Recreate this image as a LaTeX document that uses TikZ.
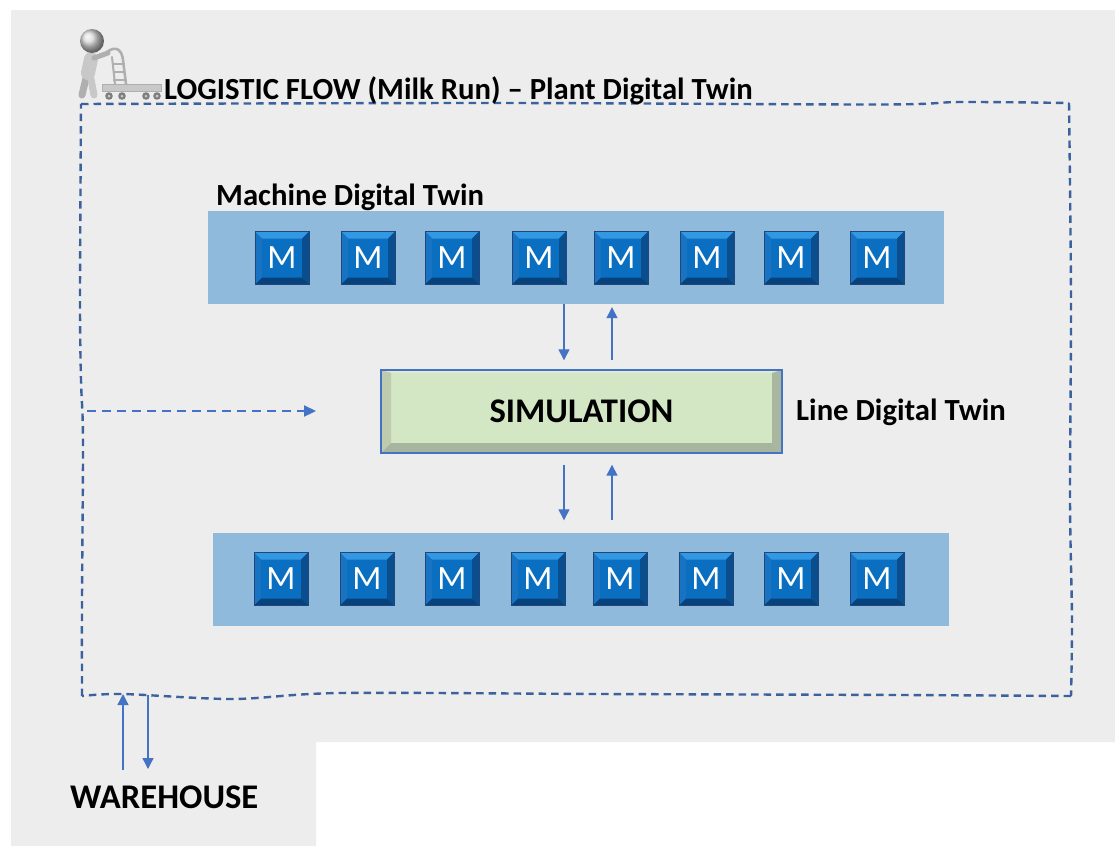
\documentclass[tikz,border=0pt]{standalone}
\usepackage{fontspec}
\setmainfont{Carlito}
\usetikzlibrary{arrows.meta}

\definecolor{pageGray}{HTML}{EDEDED}
\definecolor{bandBlue}{HTML}{8FBADC}
\definecolor{flowDash}{HTML}{3C629E}
\definecolor{linkBlue}{HTML}{4472C4}
\definecolor{mFace}{HTML}{0A6FC0}
\definecolor{mTop}{HTML}{3398E2}
\definecolor{mLeft}{HTML}{1874C2}
\definecolor{mRight}{HTML}{0B4E8E}
\definecolor{mBottom}{HTML}{07427C}
\definecolor{mEdge}{HTML}{23467A}
\definecolor{simFace}{HTML}{D4E7C5}
\definecolor{simTop}{HTML}{DCEBD0}
\definecolor{simLeft}{HTML}{BFCBAE}
\definecolor{simRight}{HTML}{A9B6A0}
\definecolor{simBottom}{HTML}{A7B49E}
\definecolor{figLight}{HTML}{C8C8C8}
\definecolor{figMid}{HTML}{AFAFAF}
\definecolor{figDark}{HTML}{7E7E7E}

\tikzset{
  lbl/.style={font=\bfseries\fontsize{30.7}{36}\selectfont, inner sep=0pt, text=black},
  biglbl/.style={font=\bfseries\fontsize{34.6}{40}\selectfont, inner sep=0pt, text=black},
  band/.style={fill=bandBlue, inner sep=0pt, minimum width=736pt, minimum height=93pt},
  mbox/.style={minimum width=54pt, minimum height=53pt, inner sep=0pt,
    fill=mFace, draw=mEdge, line width=0.8pt, text=white,
    font=\fontsize{34}{36}\selectfont,
    path picture={
      \fill[mTop] (path picture bounding box.north west) -- (path picture bounding box.north east)
        -- ([shift={(-7,7)}]path picture bounding box.north east) -- ([shift={(7,7)}]path picture bounding box.north west) -- cycle;
      \fill[mLeft] (path picture bounding box.north west) -- ([shift={(7,7)}]path picture bounding box.north west)
        -- ([shift={(7,-7)}]path picture bounding box.south west) -- (path picture bounding box.south west) -- cycle;
      \fill[mRight] (path picture bounding box.north east) -- ([shift={(-7,7)}]path picture bounding box.north east)
        -- ([shift={(-7,-7)}]path picture bounding box.south east) -- (path picture bounding box.south east) -- cycle;
      \fill[mBottom] (path picture bounding box.south west) -- ([shift={(7,-7)}]path picture bounding box.south west)
        -- ([shift={(-7,-7)}]path picture bounding box.south east) -- (path picture bounding box.south east) -- cycle;
    }},
  simbox/.style={minimum width=401pt, minimum height=83pt, inner sep=0pt,
    fill=simFace, draw=linkBlue, line width=1.4pt,
    font=\bfseries\fontsize{34.6}{40}\selectfont,
    path picture={
      \fill[simTop] (path picture bounding box.north west) -- (path picture bounding box.north east)
        -- ([shift={(-10,3)}]path picture bounding box.north east) -- ([shift={(10,3)}]path picture bounding box.north west) -- cycle;
      \fill[simLeft] (path picture bounding box.north west) -- ([shift={(10,3)}]path picture bounding box.north west)
        -- ([shift={(10,-10)}]path picture bounding box.south west) -- (path picture bounding box.south west) -- cycle;
      \fill[simRight] (path picture bounding box.north east) -- ([shift={(-10,3)}]path picture bounding box.north east)
        -- ([shift={(-10,-10)}]path picture bounding box.south east) -- (path picture bounding box.south east) -- cycle;
      \fill[simBottom] (path picture bounding box.south west) -- ([shift={(10,-10)}]path picture bounding box.south west)
        -- ([shift={(-10,-10)}]path picture bounding box.south east) -- (path picture bounding box.south east) -- cycle;
    }},
  flowline/.style={draw=flowDash, line width=2.4pt, dash pattern=on 7.5pt off 5pt},
  link/.style={draw=linkBlue, line width=1.3pt, -{Triangle[length=11pt,width=11pt]}},
  feed/.style={draw=linkBlue, line width=2.2pt, dash pattern=on 9pt off 6pt, -{Triangle[length=12pt,width=11pt]}}
}

\begin{document}
\begin{tikzpicture}[x=1pt,y=-1pt]
  \useasboundingbox (0,0) rectangle (1115,846);
  \fill[white] (0,0) rectangle (1115,846);
  % grey sheet with the lower right corner cut away
  \fill[pageGray] (11,10) -- (1115,10) -- (1115,742) -- (316,742) -- (316,846) -- (11,846) -- cycle;

  % plant boundary: hand-drawn dashed loop
  \draw[flowline] plot[smooth, tension=0.5] coordinates {(81,104) (500,103) (880,104.5) (960,102) (1069,103)};
  \draw[flowline] plot[smooth, tension=0.5] coordinates {(1069,103) (1071,300) (1070,500) (1072,620) (1071,696)};
  \draw[flowline] plot[smooth, tension=0.5] coordinates {(1071,696) (900,695) (600,694) (340,693) (233,699) (123,694) (82,696)};
  \draw[flowline] plot[smooth, tension=0.5] coordinates {(82,696) (82,600) (83,440) (81,380) (80,300) (81,104)};

  % milk-run operator pushing a trolley
  \begin{scope}
    % trolley deck and wheels
    \fill[figLight] (102,84) rectangle (161,91);
    \draw[figMid, line width=1pt] (102,84) rectangle (161,91);
    \foreach \wx in {109,122,146,157} {
      \fill[figDark] (\wx,96) circle (3.8);
      \fill[figLight] (\wx,96) circle (1.5);
    }
    % trolley handle frame
    \draw[figMid, line width=2.6pt, line cap=round] (107,52) .. controls (116,45) and (122,50) .. (123,60) -- (126,84);
    \draw[figMid, line width=2pt, line cap=round] (112,57) -- (115,84);
    \foreach \ry in {64,72,80} \draw[figMid, line width=1.4pt] (113,\ry) -- (125,\ry);
    % figure
    \draw[figMid, line width=7pt, line cap=round] (87,74) -- (82,95);
    \draw[figLight, line width=7pt, line cap=round] (90,74) -- (94,95);
    \draw[figLight, line width=14pt, line cap=round] (91,59) -- (88,73);
    \draw[figMid, line width=5pt, line cap=round] (94,58) -- (108,53);
    \shade[ball color=gray!30] (92,41) circle (12);
  \end{scope}

  \node[lbl, anchor=base west] (title) at (164,99) {LOGISTIC FLOW (Milk Run) – Plant Digital Twin};

  % machine level
  \node[lbl, anchor=base west] (mdt) at (216,205) {Machine Digital Twin};
  \node[band] (tb) at (576,257.5) {};
  \node[band] (bb) at (581,579) {};
  \foreach \i/\x in {1/282,2/368,3/452,4/539,5/621,6/707,7/791,8/877}
    \node[mbox] (tm\i) at (\x,258) {M};
  \foreach \i/\x in {1/281,2/367,3/452,4/538,5/620,6/706,7/791,8/877}
    \node[mbox] (bm\i) at (\x,579) {M};

  % line level
  \node[simbox] (sim) at (581.5,411.5) {SIMULATION};
  \node[lbl, anchor=base west] (ldt) at (796,420) {Line Digital Twin};

  \coordinate (dn) at (564,0);
  \coordinate (up) at (612,0);
  \draw[link] (tb.south -| dn) -- ([yshift=9pt]sim.north -| dn);
  \draw[link] ([yshift=9pt]sim.north -| up) -- ([yshift=-3pt]tb.south -| up);
  \draw[link] ([yshift=-11pt]sim.south -| dn) -- ([yshift=12pt]bb.north -| dn);
  \draw[link] ([yshift=12pt]bb.north -| up) -- ([yshift=-11pt]sim.south -| up);

  % material feed into the line
  \coordinate (feedStart) at (87,411);
  \coordinate (feedEnd) at (316,411);
  \draw[feed] (feedStart) -- (feedEnd);

  % warehouse link
  \node[biglbl, anchor=base west] (wh) at (70,808) {WAREHOUSE};
  \coordinate (whIn) at (123,694);
  \coordinate (whOut) at (148,695);
  \draw[link] (whIn |- 0,770) -- (whIn);
  \draw[link] (whOut) -- (whOut |- 0,769);
\end{tikzpicture}
\end{document}
